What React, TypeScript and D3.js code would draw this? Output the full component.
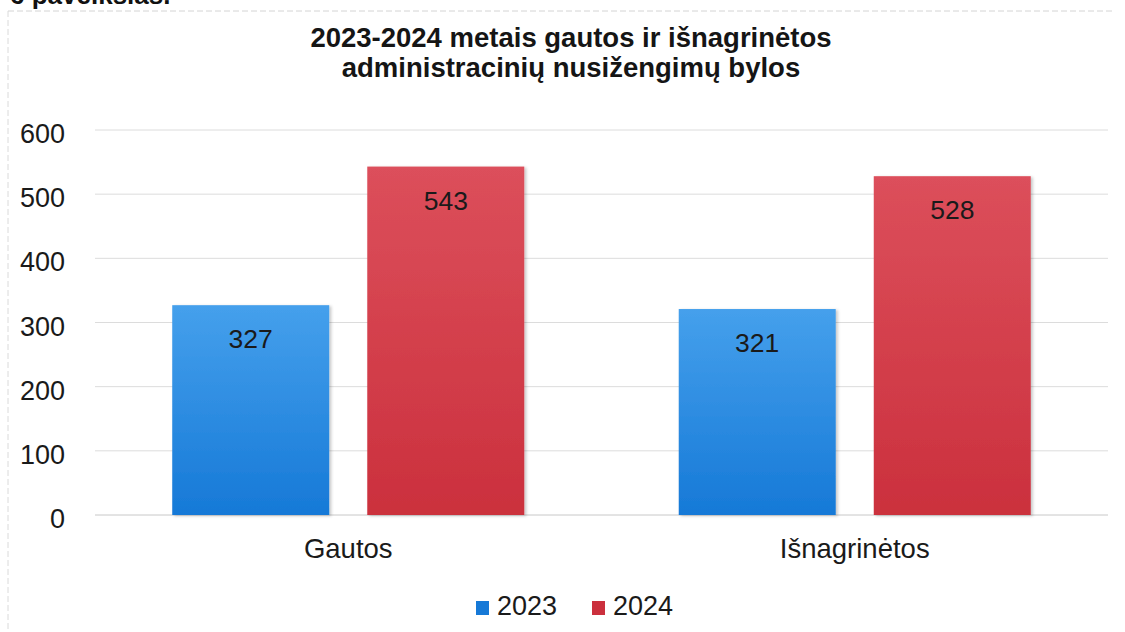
import * as d3 from 'd3';

const categories = ['Gautos', 'Išnagrinėtos'];
const years = ['2023', '2024'];
const values2023 = [327, 321];
const values2024 = [543, 528];
const yTicks = [0, 100, 200, 300, 400, 500, 600];
const titleLines = ['2023-2024 metais gautos ir išnagrinėtos', 'administracinių nusižengimų bylos'];

const W = 1125;
const H = 632;
const margin = { left: 95, right: 17, top: 130, bottom: 117 };
const font = '"Liberation Sans", Arial, sans-serif';

const colors: Record<string, [string, string]> = {
  '2023': ['#45a0ec', '#1679d7'],
  '2024': ['#dc4f5b', '#cb303d'],
};

export default function App() {
  const x = d3.scaleBand<string>()
    .domain(categories)
    .range([margin.left, W - margin.right]);
  const inner = d3.scaleBand<string>()
    .domain(years)
    .range([0, x.bandwidth()])
    .paddingInner(0.195)
    .paddingOuter(0.396);
  const y = d3.scaleLinear()
    .domain([0, 600])
    .range([H - margin.bottom, margin.top]);

  const series = [values2023, values2024];

  return (
    <svg width={W} height={H} style={{ position: 'absolute', left: 0, top: 0, background: '#fff' }}
      fontFamily={font}>
      <defs>
        {years.map(yr => (
          <linearGradient key={yr} id={'g' + yr} x1="0" y1="0" x2="0" y2="1">
            <stop offset="0%" stopColor={colors[yr][0]} />
            <stop offset="100%" stopColor={colors[yr][1]} />
          </linearGradient>
        ))}
        <filter id="shadow" x="-10%" y="-10%" width="130%" height="130%">
          <feDropShadow dx="2" dy="1" stdDeviation="1.5" floodColor="#000" floodOpacity="0.22" />
        </filter>
      </defs>

      {/* caption of the page, mostly cut off at the top */}
      <text x={10} y={4} fontSize={26} fontWeight="bold" fill="#111">6 paveikslas.</text>

      {/* faint chart frame */}
      <line x1={8} x2={1112} y1={11} y2={11} stroke="#d4d4d4" strokeDasharray="6 3" />
      <line x1={8} x2={8} y1={11} y2={H} stroke="#dadada" strokeDasharray="6 3" />

      {titleLines.map((t, i) => (
        <text key={i} x={571} y={47 + i * 30} textAnchor="middle" fontSize={27.5} fontWeight="bold" fill="#151515">{t}</text>
      ))}

      {yTicks.map(t => (
        <g key={t}>
          <line x1={margin.left} x2={W - margin.right} y1={y(t)} y2={y(t)}
            stroke={t === 0 ? '#c8c8c8' : '#dcdcdc'} strokeWidth={1} />
          <text x={65} y={y(t) + 13} textAnchor="end" fontSize={27} fill="#1a1a1a">{t}</text>
        </g>
      ))}

      {categories.map((c, ci) => (
        <g key={c}>
          {years.map((yr, yi) => {
            const v = series[yi][ci];
            const bx = (x(c) ?? 0) + (inner(yr) ?? 0);
            const bw = inner.bandwidth();
            return (
              <g key={yr}>
                <rect x={bx} y={y(v)} width={bw} height={y(0) - y(v)}
                  fill={`url(#g${yr})`} filter="url(#shadow)" />
                <text x={bx + bw / 2} y={y(v) + 43} textAnchor="middle" fontSize={26.5} fill="#1a1a1a">{v}</text>
              </g>
            );
          })}
          <text x={(x(c) ?? 0) + x.bandwidth() / 2} y={558} textAnchor="middle" fontSize={27.5} fill="#1a1a1a">{c}</text>
        </g>
      ))}

      {years.map((yr, i) => {
        const lx = 476 + i * 116;
        return (
          <g key={yr}>
            <rect x={lx} y={601} width={13} height={14} fill={colors[yr][1]} />
            <text x={lx + 21} y={615} fontSize={27} fill="#1a1a1a">{yr}</text>
          </g>
        );
      })}
    </svg>
  );
}
